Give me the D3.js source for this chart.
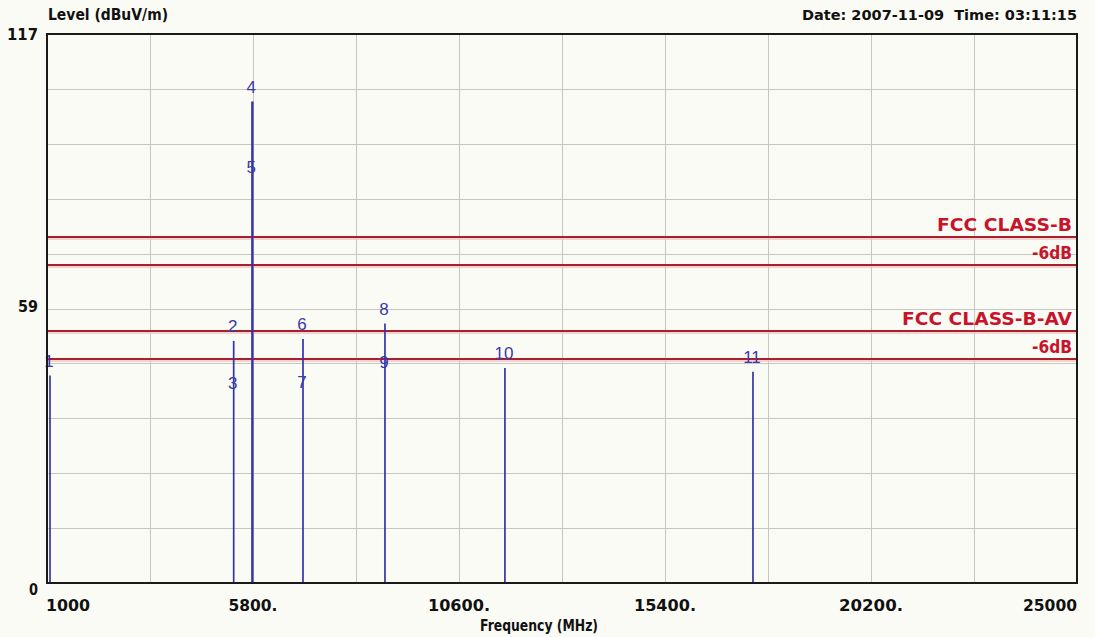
<!DOCTYPE html>
<html>
<head>
<meta charset="utf-8">
<script src="https://cdn.jsdelivr.net/npm/d3@7"></script>
<style>
  html, body { margin: 0; padding: 0; background: #fbfbf6; }
  svg { display: block; }
  text { font-family: "Liberation Sans", Arial, sans-serif; white-space: pre; }
  text.b { font-family: "DejaVu Sans", sans-serif; font-weight: bold; }
</style>
</head>
<body>
<svg id="chart"></svg>
<script>
// spikes (peak readings)
const spikeFreq = [1070, 5350, 5785, 6965, 8875, 11670, 17450];
const spikeLevel = [44.2, 51.6, 102.6, 52.0, 55.3, 45.8, 45.0];

// marker labels
const markerIds = ["1", "2", "3", "4", "5", "6", "7", "8", "9", "10", "11"];
const markerFreq = [1070, 5350, 5350, 5785, 5785, 6965, 6965, 8875, 8875, 11670, 17450];
const markerLevel = [44.2, 51.6, 39.4, 102.6, 85.4, 52.0, 39.6, 55.3, 43.8, 45.8, 45.0];

// limit lines
const limitNames = ["FCC CLASS-B", "-6dB", "FCC CLASS-B-AV", "-6dB"];
const limitLevel = [74, 68, 54, 48];
const limitTextWidth = [135, 40, 170, 40];

const xTickValues = [1000, 5800, 10600, 15400, 20200, 25000];
const xTickLabels = ["1000", "5800.", "10600.", "15400.", "20200.", "25000"];
const xTickWidth = [44, 49, 62, 62, 64, 54];
const yTickValues = [0, 59, 117];
const yTickWidth = [9, 20, 31];

const W = 1095, H = 637;
const margin = {top: 34, right: 18, bottom: 54, left: 47};

const svg = d3.select("#chart").attr("width", W).attr("height", H);

const x = d3.scaleLinear().domain([1000, 25000]).range([margin.left, W - margin.right]);
const y = d3.scaleLinear().domain([0, 117]).range([H - margin.bottom, margin.top]);

svg.append("rect").attr("width", W).attr("height", H).attr("fill", "#fbfbf6");

function boldText(g, tx, ty, str, size, width, anchor, color) {
  const t = g.append("text")
    .attr("class", "b")
    .attr("x", tx).attr("y", ty)
    .attr("text-anchor", anchor || "start")
    .attr("font-size", size)
    .attr("fill", color || "#111")
    .text(str);
  if (width) t.attr("textLength", width).attr("lengthAdjust", "spacingAndGlyphs");
  return t;
}

// grid
const grid = svg.append("g");
grid.selectAll("line.v")
  .data(d3.range(1000, 25001, 2400))
  .enter().append("line")
  .attr("x1", d => Math.round(x(d)) + 0.5).attr("x2", d => Math.round(x(d)) + 0.5)
  .attr("y1", y(117)).attr("y2", y(0))
  .attr("stroke", "#c6c6c2").attr("stroke-width", 1);
grid.selectAll("line.h")
  .data(d3.range(0, 10).map(i => i * 11.7))
  .enter().append("line")
  .attr("x1", x(1000)).attr("x2", x(25000))
  .attr("y1", d => Math.round(y(d)) + 0.5).attr("y2", d => Math.round(y(d)) + 0.5)
  .attr("stroke", "#c6c6c2").attr("stroke-width", 1);

// limit lines
const limits = svg.append("g");
limitLevel.forEach((lv, i) => {
  const yy = Math.round(y(lv)) + 1;
  limits.append("line")
    .attr("x1", x(1000)).attr("x2", x(25000))
    .attr("y1", yy + 2).attr("y2", yy + 2)
    .attr("stroke", "#f2c4c4").attr("stroke-width", 1.5);
  limits.append("line")
    .attr("x1", x(1000)).attr("x2", x(25000))
    .attr("y1", yy).attr("y2", yy)
    .attr("stroke", "#a8202a").attr("stroke-width", 2);
  boldText(limits, x(25000) - 5, yy - 6, limitNames[i], 18, limitTextWidth[i], "end", "#c8142a");
});

// spikes
svg.append("g").selectAll("line")
  .data(spikeFreq)
  .enter().append("line")
  .attr("x1", d => x(d)).attr("x2", d => x(d))
  .attr("y1", y(0)).attr("y2", (d, i) => y(spikeLevel[i]))
  .attr("stroke", "#3434a8")
  .attr("stroke-width", (d, i) => spikeLevel[i] > 100 ? 2.4 : 1.7);

// marker labels
svg.append("g").selectAll("text")
  .data(markerIds)
  .enter().append("text")
  .attr("x", (d, i) => x(markerFreq[i]) - 1)
  .attr("y", (d, i) => y(markerLevel[i]) - 9)
  .attr("text-anchor", "middle")
  .attr("font-size", 17)
  .attr("fill", "#3a3aa8")
  .text(d => d);

// frame
svg.append("rect")
  .attr("x", x(1000)).attr("y", y(117))
  .attr("width", x(25000) - x(1000)).attr("height", y(0) - y(117))
  .attr("fill", "none").attr("stroke", "#1a1a1a").attr("stroke-width", 2);

// y labels
const yl = svg.append("g");
yTickValues.forEach((v, i) => {
  boldText(yl, margin.left - 9, v === 0 ? y(v) + 12 : y(v) + 6, String(v), 16, yTickWidth[i], "end");
});

// x labels
const xl = svg.append("g");
xTickValues.forEach((v, i) => {
  const last = i === xTickValues.length - 1;
  const anchor = i === 0 ? "start" : (last ? "end" : "middle");
  boldText(xl, i === 0 ? x(v) - 1 : x(v), y(0) + 28, xTickLabels[i], 16, xTickWidth[i], anchor);
});

boldText(svg, 539, H - 6, "Frequency (MHz)", 16, 118, "middle");
boldText(svg, margin.left + 1, 20, "Level (dBuV/m)", 16, 120, "start");
boldText(svg, W - margin.right, 20, "Date: 2007-11-09  Time: 03:11:15", 14.5, null, "end");
</script>
</body>
</html>
